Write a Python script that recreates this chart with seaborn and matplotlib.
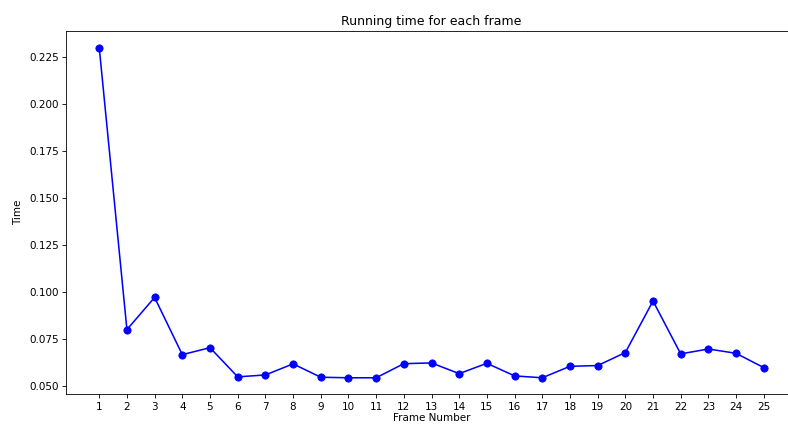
import numpy as np
import pandas as pd
import matplotlib
matplotlib.use("Agg")
import matplotlib.pyplot as plt
import seaborn as sns

# running time per frame
frames = list(range(1, 26))
times = [0.2300, 0.0801, 0.0972, 0.0668, 0.0705, 0.0550, 0.0560, 0.0619, 0.0548, 0.0545,
         0.0545, 0.0620, 0.0624, 0.0567, 0.0622, 0.0555, 0.0545, 0.0606, 0.0610, 0.0679,
         0.0953, 0.0672, 0.0698, 0.0675, 0.0599]

df = pd.DataFrame({"Frame Number": frames, "Time": times})

fig = plt.figure(figsize=(788 / 75, 425 / 75), dpi=75)
# the original plot runs past the right edge of the picture
ax = fig.add_axes([66 / 788, (425 - 394.3) / 425, (797 - 66) / 788, (394.3 - 31) / 425])

sns.lineplot(data=df, x="Frame Number", y="Time", ax=ax, color="blue",
             marker="o", markersize=7, markeredgecolor="blue", linewidth=1.5)

ax.set_xticks(frames)
ax.set_xticklabels([str(f) for f in frames])
ax.set_title("Running time for each frame")
ax.set_xlabel("Frame Number", labelpad=1)
ax.set_ylabel("Time", labelpad=6)
ax.spines["right"].set_visible(False)

fig.savefig("out.png", dpi=75, facecolor="white")
